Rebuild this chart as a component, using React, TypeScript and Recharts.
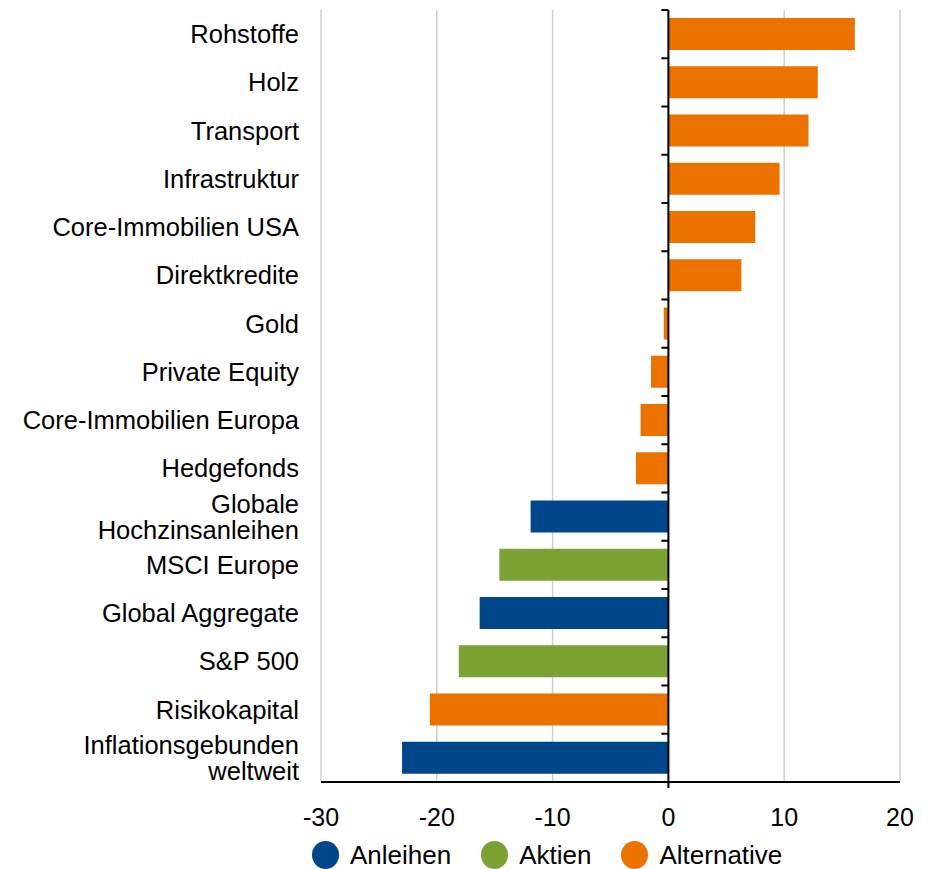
import {
  BarChart,
  Bar,
  XAxis,
  YAxis,
  CartesianGrid,
  ReferenceLine,
  Legend,
  Cell,
} from 'recharts'

const categories = [
  'Rohstoffe',
  'Holz',
  'Transport',
  'Infrastruktur',
  'Core-Immobilien USA',
  'Direktkredite',
  'Gold',
  'Private Equity',
  'Core-Immobilien Europa',
  'Hedgefonds',
  'Globale\nHochzinsanleihen',
  'MSCI Europe',
  'Global Aggregate',
  'S&P 500',
  'Risikokapital',
  'Inflationsgebunden\nweltweit',
]

const values = [16.1, 12.9, 12.1, 9.6, 7.5, 6.3, -0.4, -1.5, -2.4, -2.8, -11.9, -14.6, -16.3, -18.1, -20.6, -23.0]

const groups = [
  'Alternative', 'Alternative', 'Alternative', 'Alternative', 'Alternative', 'Alternative',
  'Alternative', 'Alternative', 'Alternative', 'Alternative',
  'Anleihen', 'Aktien', 'Anleihen', 'Aktien', 'Alternative', 'Anleihen',
]

const groupNames = ['Anleihen', 'Aktien', 'Alternative']
const groupColors: Record<string, string> = {
  Anleihen: '#00468B',
  Aktien: '#7BA232',
  Alternative: '#EC7200',
}

const xTicks = [-30, -20, -10, 0, 10, 20]

const data = categories.map((name, i) => ({ name, value: values[i], group: groups[i] }))

const FONT = 'Arial, "Liberation Sans", sans-serif'

// Kategorie-Label, mehrzeilig bei "\n"
const CategoryTick = (props: any) => {
  const { x, y, payload } = props
  const lines = String(payload.value).split('\n')
  const lh = 26
  const start = y - ((lines.length - 1) * lh) / 2
  return (
    <text x={x} y={start} textAnchor="end" fontSize={25.5} fontFamily={FONT} fill="#000">
      {lines.map((l, i) => (
        <tspan key={i} x={x} y={start + i * lh} dy="0.35em">
          {l}
        </tspan>
      ))}
    </text>
  )
}

// Nulllinie mit kleinen Strichen an den Kategoriegrenzen
const ZeroLine = (props: any) => {
  const { x1, y1, y2 } = props
  const top = Math.min(y1, y2)
  const bottom = Math.max(y1, y2)
  const step = (bottom - top) / categories.length
  const marks = Array.from({ length: categories.length + 1 }, (_, i) => top + i * step)
  return (
    <g>
      <line x1={x1} y1={top} x2={x1} y2={bottom + 6} stroke="#000" strokeWidth={2} />
      {marks.map((m, i) => (
        <line key={i} x1={x1 - 7} y1={m} x2={x1} y2={m} stroke="#000" strokeWidth={2} />
      ))}
    </g>
  )
}

const LegendContent = () => (
  <div
    style={{
      display: 'flex',
      alignItems: 'center',
      height: 30,
      fontFamily: FONT,
      fontSize: 26,
      lineHeight: '30px',
      color: '#000',
    }}
  >
    {groupNames.map((g) => (
      <div key={g} style={{ display: 'flex', alignItems: 'center', marginRight: 30 }}>
        <span
          style={{
            display: 'inline-block',
            width: 27,
            height: 28,
            borderRadius: '50%',
            background: groupColors[g],
            marginRight: 11,
          }}
        />
        <span>{g}</span>
      </div>
    ))}
  </div>
)

export default function App() {
  return (
    <div style={{ position: 'absolute', top: 0, left: 0, width: 930, height: 869, background: '#fff' }}>
      <BarChart
        width={930}
        height={869}
        layout="vertical"
        data={data}
        margin={{ top: 10, right: 30, bottom: 0, left: 0 }}
        barSize={32}
      >
        <CartesianGrid horizontal={false} stroke="#cfcfcf" strokeWidth={1.5} />
        <XAxis
          type="number"
          domain={[-30, 20]}
          ticks={xTicks}
          height={87}
          axisLine={{ stroke: '#000', strokeWidth: 2 }}
          tickLine={false}
          tickMargin={20}
          tick={{ fontSize: 25, fontFamily: FONT, fill: '#000' }}
        />
        <YAxis
          type="category"
          dataKey="name"
          width={321}
          axisLine={false}
          tickLine={false}
          tickSize={0}
          tickMargin={22}
          interval={0}
          tick={<CategoryTick />}
        />
        <Bar dataKey="value" isAnimationActive={false}>
          {data.map((d) => (
            <Cell key={d.name} fill={groupColors[d.group]} />
          ))}
        </Bar>
        <ReferenceLine x={0} shape={<ZeroLine />} />
        <Legend
          layout="horizontal"
          verticalAlign="middle"
          align="center"
          content={<LegendContent />}
          wrapperStyle={{ left: 312, top: 840, width: 600, height: 30 }}
        />
      </BarChart>
    </div>
  )
}
